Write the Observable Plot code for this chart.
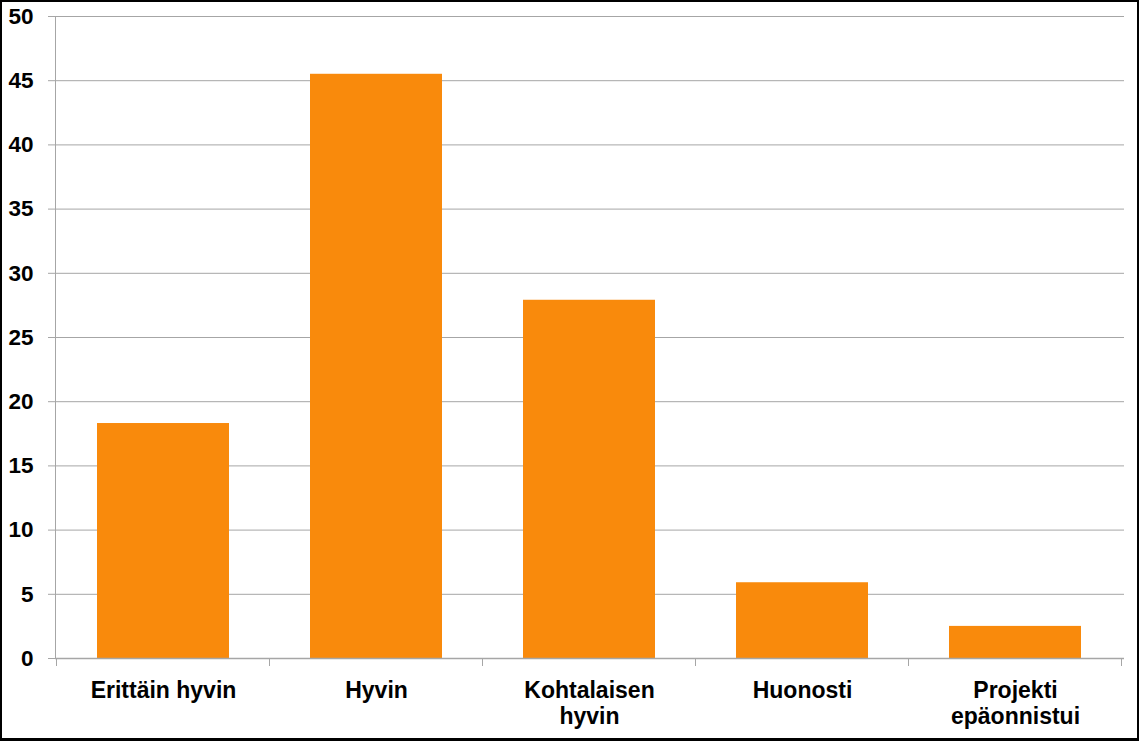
<!DOCTYPE html>
<html>
<head>
<meta charset="utf-8">
<script src="https://cdn.jsdelivr.net/npm/d3@7"></script>
<script src="https://cdn.jsdelivr.net/npm/@observablehq/plot@0.6"></script>
<style>
  html, body { margin: 0; padding: 0; background: #fff; }
  svg { display: block; }
</style>
</head>
<body>
<div id="chart"></div>
<script>
const categories = ["Erittäin hyvin", "Hyvin", "Kohtalaisen\nhyvin", "Huonosti", "Projekti\nepäonnistui"];
const values = [18.3, 45.5, 27.9, 5.9, 2.5];
const yTicks = [0, 5, 10, 15, 20, 25, 30, 35, 40, 45, 50];

const data = categories.map((c, i) => ({category: c, value: values[i]}));
const gray = "#a6a6a6";
const font = "'Liberation Sans', Arial, sans-serif";

const chart = Plot.plot({
  width: 1139,
  height: 741,
  marginLeft: 55,
  marginRight: 15,
  marginTop: 16,
  marginBottom: 83,
  style: {fontFamily: font, fontWeight: "bold", fontSize: "22px", color: "#000", background: "#fff"},
  x: {domain: categories, paddingInner: 0.378, paddingOuter: 0.189, label: null},
  y: {domain: [0, 50], label: null},
  marks: [
    Plot.gridY(yTicks, {stroke: gray, strokeOpacity: 1, strokeWidth: 1}),
    Plot.axisY(yTicks, {tickSize: 7, tickPadding: 15, stroke: gray, strokeOpacity: 1, fill: "#000", fontSize: 22.5, fontWeight: "bold", label: null}),
    Plot.axisX({tickSize: 0, tickPadding: 21, fill: "#000", fontSize: 23, fontWeight: "bold", lineHeight: 1.13, label: null}),
    Plot.barY(data, {x: "category", y: "value", fill: "#f98a0c"}),
    Plot.frame({anchor: "left", stroke: gray, strokeOpacity: 1}),
    Plot.ruleY([0], {stroke: gray, strokeWidth: 1.5})
  ]
});

// Category boundary ticks on the x axis, positioned from Plot's band scale
const xs = chart.scale("x");
const ys = chart.scale("y");
const step = xs.step ?? (xs.bandwidth / (1 - 0.378));
const gap = (step - xs.bandwidth) / 2;
const bounds = categories.map(c => xs.apply(c) - gap);
bounds.push(xs.apply(categories[categories.length - 1]) + xs.bandwidth + gap);
const y0 = ys.apply(0);
const svg = d3.select(chart);
svg.append("g")
  .selectAll("line")
  .data(bounds)
  .join("line")
  .attr("x1", d => d).attr("x2", d => d)
  .attr("y1", y0).attr("y2", y0 + 8)
  .attr("stroke", gray);

// outer black frame
svg.append("rect")
  .attr("x", 1).attr("y", 1)
  .attr("width", 1137).attr("height", 738)
  .attr("fill", "none").attr("stroke", "#000").attr("stroke-width", 2);
svg.append("line")
  .attr("x1", 0).attr("x2", 1139).attr("y1", 739.5).attr("y2", 739.5)
  .attr("stroke", "#000").attr("stroke-width", 3);

document.getElementById("chart").appendChild(chart);
</script>
</body>
</html>
